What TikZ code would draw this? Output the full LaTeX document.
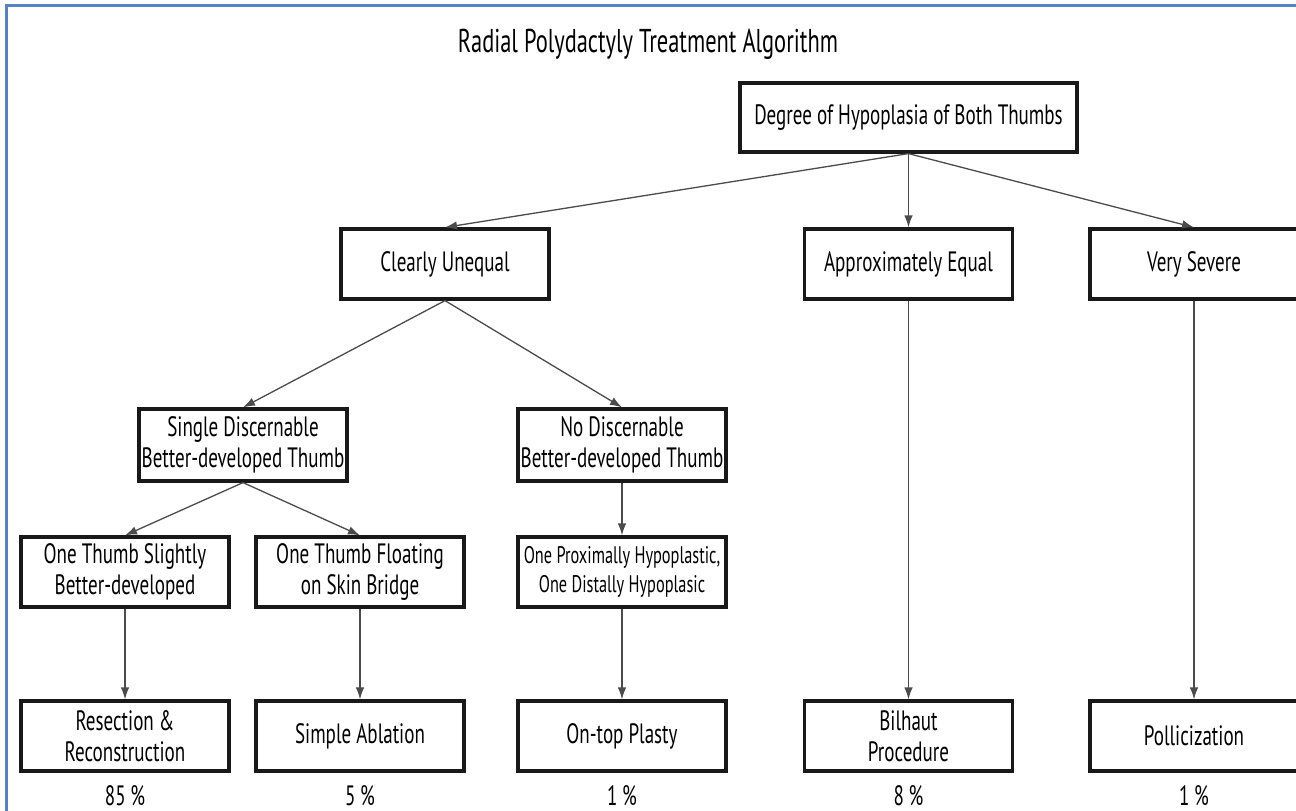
\documentclass[tikz,border=0pt]{standalone}
\usepackage{fontspec}
\setmainfont{PT Sans}[FakeStretch=0.68]
\usetikzlibrary{arrows.meta}
\definecolor{frameblue}{RGB}{84,130,196}
\definecolor{boxline}{RGB}{25,25,25}
\definecolor{connline}{RGB}{75,75,75}
\begin{document}
\begin{tikzpicture}[x=1pt,y=-1pt,
  box/.style={draw=boxline, line width=3.2pt, minimum width=208pt, minimum height=70pt,
    inner sep=0pt, align=center, font=\fontsize{28}{31}\selectfont},
  conn/.style={draw=connline, line width=1.3pt, -{Latex[length=12pt,width=8.5pt]}},
  pct/.style={inner sep=0pt, font=\fontsize{28}{31}\selectfont},
  titletext/.style={inner sep=0pt, font=\fontsize{33}{38}\selectfont}]
\useasboundingbox (0,0) rectangle (1296,811);
\clip (0,0) rectangle (1296,811);
\draw[frameblue, line width=3pt] (6.5,5.5) rectangle (1320,830);

\node[titletext] (title) at (648,44) {Radial Polydactyly Treatment Algorithm};

\node[box, minimum width=337pt, minimum height=69pt] (top) at (908.5,117.5) {Degree of Hypoplasia of Both Thumbs};

\node[box] (cu) at (445,264) {Clearly Unequal};
\node[box] (ae) at (908.5,264) {Approximately Equal};
\node[box] (vs) at (1194,264) {Very Severe};

\node[box, minimum height=72pt] (sd) at (243,445) {Single Discernable\\Better-developed Thumb};
\node[box, minimum height=72pt] (nd) at (622,445) {No Discernable\\Better-developed Thumb};

\node[box] (sl) at (125,572) {One Thumb Slightly\\Better-developed};
\node[box] (fl) at (360,572) {One Thumb Floating\\on Skin Bridge};
\node[box, font=\fontsize{24}{29}\selectfont] (px) at (622,572) {One Proximally Hypoplastic,\\One Distally Hypoplasic};

\node[box] (rr) at (125,736) {Resection \&\\Reconstruction};
\node[box] (sa) at (360,736) {Simple Ablation};
\node[box] (op) at (622,736) {On-top Plasty};
\node[box] (bp) at (908.5,736) {Bilhaut\\Procedure};
\node[box] (po) at (1194,736) {Pollicization};

\node[pct] (p1) at (125,796) {85\,\%};
\node[pct] (p2) at (360,796) {5\,\%};
\node[pct] (p3) at (622,796) {1\,\%};
\node[pct] (p4) at (908.5,796) {8\,\%};
\node[pct] (p5) at (1194,796) {1\,\%};

\draw[conn] (top.south) -- (cu.north);
\draw[conn] (top.south) -- (ae.north);
\draw[conn] (top.south) -- (vs.north);
\draw[conn] (cu.south) -- (sd.north);
\draw[conn] (cu.south) -- (nd.north);
\draw[conn] (sd.south) -- (sl.north);
\draw[conn] (sd.south) -- (fl.north);
\draw[conn] (nd.south) -- (px.north);
\draw[conn] (sl.south) -- (rr.north);
\draw[conn] (fl.south) -- (sa.north);
\draw[conn] (px.south) -- (op.north);
\draw[conn] (ae.south) -- (bp.north);
\draw[conn] (vs.south) -- (po.north);
\end{tikzpicture}
\end{document}
